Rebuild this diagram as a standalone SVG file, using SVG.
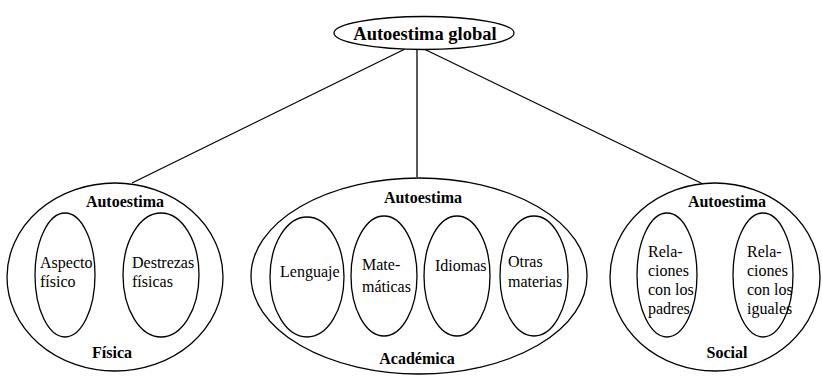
<svg xmlns="http://www.w3.org/2000/svg" width="822" height="376" viewBox="0 0 822 376">
<style>
.sh{fill:#fff;stroke:#000;stroke-width:1.3}
.ln{stroke:#000;stroke-width:1.3;fill:none}
.t,.b,.title{font-family:Liberation Serif,Tinos,Nimbus Roman,Times,Noto Serif,DejaVu Serif,serif;fill:#000}
.t{font-size:16px}
.b{font-size:16px;font-weight:bold;text-anchor:middle}
.title{font-size:18.5px;font-weight:bold;text-anchor:middle}
</style>
<rect width="822" height="376" fill="#fff"/>
<g id="connectors">
<line class="ln" x1="405" y1="49" x2="132" y2="183"/>
<line class="ln" x1="417" y1="50" x2="417" y2="177"/>
<line class="ln" x1="424" y1="49" x2="703" y2="184"/>
</g>
<g id="global">
<ellipse class="sh" cx="424" cy="33" rx="90" ry="16.5"/>
<text class="title" x="425" y="40">Autoestima global</text>
</g>
<g id="fisica">
<ellipse class="sh" cx="115" cy="277" rx="108" ry="94"/>
<text class="b" x="125" y="207">Autoestima</text>
<text class="b" x="112" y="358">Física</text>
</g>
<g id="aspecto">
<ellipse class="sh" cx="65" cy="275" rx="30" ry="62"/>
<text class="t" x="40" y="268">Aspecto</text>
<text class="t" x="40" y="287">físico</text>
</g>
<g id="destrezas">
<ellipse class="sh" cx="161" cy="275" rx="38" ry="62"/>
<text class="t" x="132" y="268">Destrezas</text>
<text class="t" x="132" y="287">físicas</text>
</g>
<g id="academica">
<ellipse class="sh" cx="419" cy="276" rx="168" ry="98"/>
<text class="b" x="423" y="203">Autoestima</text>
<text class="b" x="417" y="364">Académica</text>
</g>
<g id="lenguaje">
<ellipse class="sh" cx="307" cy="277" rx="37" ry="60"/>
<text class="t" x="280" y="277">Lenguaje</text>
</g>
<g id="matematicas">
<ellipse class="sh" cx="384" cy="276" rx="33" ry="60"/>
<text class="t" x="362" y="270">Mate-</text>
<text class="t" x="362" y="292">máticas</text>
</g>
<g id="idiomas">
<ellipse class="sh" cx="457" cy="276" rx="33" ry="60"/>
<text class="t" x="435" y="271">Idiomas</text>
</g>
<g id="otras">
<ellipse class="sh" cx="534" cy="276" rx="34" ry="60"/>
<text class="t" x="508" y="267">Otras</text>
<text class="t" x="508" y="287">materias</text>
</g>
<g id="social">
<ellipse class="sh" cx="715" cy="277" rx="105" ry="94"/>
<text class="b" x="727" y="207">Autoestima</text>
<text class="b" x="727" y="358">Social</text>
</g>
<g id="padres">
<ellipse class="sh" cx="667" cy="275" rx="30" ry="62"/>
<text class="t" x="648" y="257">Rela-</text>
<text class="t" x="648" y="276">ciones</text>
<text class="t" x="648" y="295">con los</text>
<text class="t" x="648" y="314">padres</text>
</g>
<g id="iguales">
<ellipse class="sh" cx="763" cy="275" rx="30" ry="62"/>
<text class="t" x="747" y="257">Rela-</text>
<text class="t" x="747" y="276">ciones</text>
<text class="t" x="747" y="295">con los</text>
<text class="t" x="747" y="314">iguales</text>
</g>
</svg>
